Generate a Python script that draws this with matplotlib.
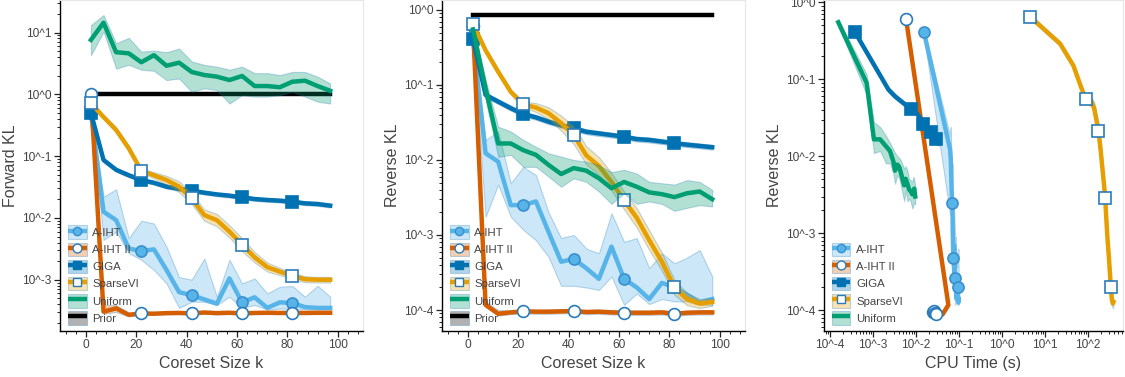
import matplotlib
matplotlib.use("Agg")
import matplotlib.pyplot as plt
import matplotlib.ticker as mticker
from matplotlib.colors import to_rgba
from matplotlib.lines import Line2D
from matplotlib.patches import Patch
import numpy as np

plt.rcParams['font.family'] = ['Liberation Sans', 'DejaVu Sans']

# coreset sizes
K = [2, 7, 12, 17, 22, 27, 32, 37, 42, 47, 52, 57, 62, 67, 72, 77, 82, 87, 92, 97]

# ---- forward KL ----
fwd_aiht = [0.5, 0.0126, 0.0092, 0.0032, 0.0029, 0.0031, 0.00144, 6.3e-4, 5.6e-4, 4.8e-4,
            4.1e-4, 1.05e-3, 4.3e-4, 5.2e-4, 3.5e-4, 4.3e-4, 4.2e-4, 3.6e-4, 3.5e-4, 3.5e-4]
fwd_aiht_lo = [0.45, 0.0044, 0.006, 0.0027, 0.0021, 0.00144, 8.7e-4, 3.5e-4, 4.4e-4, 4.4e-4,
               3.9e-4, 5.3e-4, 3.5e-4, 3.9e-4, 3.3e-4, 3.4e-4, 3.4e-4, 3.3e-4, 3.3e-4, 3.3e-4]
fwd_aiht_hi = [0.56, 0.022, 0.029, 0.0047, 0.009, 0.0081, 0.0034, 0.0011, 1.0e-3, 0.0022,
               5.3e-4, 0.0021, 8.7e-4, 1.05e-3, 6.0e-4, 7.7e-4, 7.9e-4, 5.3e-4, 8e-4, 5.3e-4]

fwd_aiht2 = [1.03, 3.04e-4, 3.44e-4, 2.7e-4, 2.85e-4, 2.82e-4, 2.88e-4, 2.9e-4, 2.85e-4, 2.95e-4,
             2.88e-4, 2.92e-4, 2.85e-4, 2.9e-4, 2.92e-4, 2.9e-4, 2.9e-4, 2.9e-4, 2.92e-4, 2.92e-4]
fwd_aiht2_lo = [0.95, 2.8e-4, 3.0e-4, 2.55e-4, 2.7e-4, 2.7e-4, 2.75e-4, 2.77e-4, 2.72e-4, 2.8e-4,
                2.75e-4, 2.78e-4, 2.72e-4, 2.77e-4, 2.78e-4, 2.77e-4, 2.77e-4, 2.77e-4, 2.78e-4, 2.78e-4]
fwd_aiht2_hi = [1.1, 3.9e-4, 3.9e-4, 2.95e-4, 3.0e-4, 2.95e-4, 3.0e-4, 3.03e-4, 2.98e-4, 3.08e-4,
                3.0e-4, 3.05e-4, 2.98e-4, 3.03e-4, 3.05e-4, 3.03e-4, 3.03e-4, 3.03e-4, 3.05e-4, 3.05e-4]

fwd_giga = [0.5, 0.0865, 0.06, 0.049, 0.041, 0.037, 0.032, 0.0295, 0.0276, 0.0256,
            0.024, 0.0229, 0.0215, 0.0202, 0.0195, 0.019, 0.0183, 0.0172, 0.0168, 0.0158]
fwd_giga_lo = [0.46, 0.08, 0.056, 0.0455, 0.038, 0.0345, 0.0298, 0.0275, 0.0257, 0.0239,
               0.0224, 0.0213, 0.02, 0.0188, 0.0182, 0.0177, 0.017, 0.016, 0.0156, 0.0147]
fwd_giga_hi = [0.54, 0.094, 0.065, 0.053, 0.0443, 0.04, 0.0346, 0.0318, 0.0297, 0.0275,
               0.0258, 0.0246, 0.0231, 0.0217, 0.021, 0.0204, 0.0197, 0.0185, 0.018, 0.017]

fwd_svi = [0.72, 0.43, 0.265, 0.134, 0.058, 0.049, 0.041, 0.032, 0.0207, 0.0111,
           0.0092, 0.006, 0.0037, 0.0023, 0.0016, 0.00135, 0.00115, 0.00102, 0.001, 0.001]
fwd_svi_lo = [0.672, 0.401, 0.242, 0.122, 0.053, 0.0437, 0.0349, 0.026, 0.0168, 0.009,
              0.0073, 0.0048, 0.0029, 0.0019, 0.00136, 0.00118, 0.00102, 0.00091, 0.0009, 0.0009]
fwd_svi_hi = [0.772, 0.461, 0.29, 0.147, 0.0636, 0.055, 0.048, 0.039, 0.0255, 0.0137,
              0.0116, 0.0076, 0.0047, 0.0028, 0.0019, 0.00155, 0.00129, 0.00114, 0.00111, 0.00111]

fwd_unif = [7.6, 14.4, 4.8, 4.6, 3.3, 4.3, 2.9, 3.25, 2.3, 2.05,
            1.93, 1.7, 1.98, 1.36, 1.36, 1.3, 1.6, 1.66, 1.36, 1.14]
fwd_unif_lo = [4.3, 10.3, 2.6, 3.0, 2.5, 2.4, 1.7, 1.8, 1.1, 1.25,
               1.17, 0.71, 0.97, 0.92, 0.92, 0.97, 1.1, 0.92, 0.76, 0.71]
fwd_unif_hi = [13.2, 19.2, 6.7, 8.2, 4.9, 5.1, 4.8, 5.5, 3.4, 3.0,
               2.8, 2.5, 2.8, 2.2, 2.2, 2.05, 2.3, 2.3, 1.93, 1.5]

fwd_prior = 1.0

# ---- reverse KL ----
rev_aiht = [0.41, 0.0123, 0.0095, 0.0025, 0.0025, 0.0028, 0.0011, 4.4e-4, 4.8e-4, 3.6e-4,
            2.6e-4, 7.0e-4, 2.6e-4, 2.0e-4, 1.4e-4, 2.3e-4, 2.0e-4, 1.6e-4, 1.26e-4, 1.4e-4]
rev_aiht_lo = [0.37, 0.00175, 0.0047, 0.00175, 0.00117, 8.5e-4, 5.1e-4, 2.1e-4, 2.1e-4, 2.0e-4,
               1.85e-4, 2.8e-4, 1.17e-4, 1.66e-4, 1.2e-4, 1.4e-4, 1.3e-4, 1.3e-4, 1.17e-4, 1.17e-4]
rev_aiht_hi = [0.45, 0.0185, 0.024, 0.0049, 0.0081, 0.0063, 0.002, 9.1e-4, 1.0e-3, 6.6e-4,
               5.7e-4, 1.95e-3, 8.1e-4, 9.1e-4, 3.6e-4, 5.7e-4, 4.2e-4, 5.0e-4, 6.3e-4, 2.8e-4]

rev_aiht2 = [0.61, 1.17e-4, 8.9e-5, 9.3e-5, 9.6e-5, 9.5e-5, 9.5e-5, 9.6e-5, 9.7e-5, 9.4e-5,
             9.5e-5, 9.3e-5, 9.2e-5, 9.2e-5, 9.2e-5, 9.3e-5, 8.9e-5, 9.2e-5, 9.3e-5, 9.3e-5]
rev_aiht2_lo = [0.57, 1.1e-4, 8.4e-5, 8.8e-5, 9.0e-5, 8.9e-5, 8.9e-5, 9.0e-5, 9.1e-5, 8.8e-5,
                8.9e-5, 8.7e-5, 8.6e-5, 8.6e-5, 8.6e-5, 8.7e-5, 8.4e-5, 8.6e-5, 8.7e-5, 8.7e-5]
rev_aiht2_hi = [0.65, 1.3e-4, 1.0e-4, 9.9e-5, 1.02e-4, 1.01e-4, 1.01e-4, 1.02e-4, 1.03e-4, 1.0e-4,
                1.01e-4, 9.9e-5, 9.8e-5, 9.8e-5, 9.8e-5, 9.9e-5, 9.5e-5, 9.8e-5, 9.9e-5, 9.9e-5]

rev_giga = [0.41, 0.0736, 0.06, 0.049, 0.041, 0.037, 0.0324, 0.029, 0.0264, 0.0238,
            0.0226, 0.0215, 0.0204, 0.019, 0.0185, 0.0176, 0.0167, 0.016, 0.0154, 0.0148]
rev_giga_lo = [0.38, 0.068, 0.0556, 0.0454, 0.038, 0.0343, 0.03, 0.0269, 0.0244, 0.022,
               0.0209, 0.0199, 0.0189, 0.0176, 0.0171, 0.0163, 0.0155, 0.0148, 0.0143, 0.0137]
rev_giga_hi = [0.44, 0.0795, 0.065, 0.053, 0.0443, 0.04, 0.035, 0.0313, 0.0285, 0.0257,
               0.0244, 0.0232, 0.022, 0.0205, 0.02, 0.019, 0.018, 0.0173, 0.0166, 0.016]

rev_svi = [0.65, 0.29, 0.15, 0.081, 0.055, 0.05, 0.042, 0.031, 0.0215, 0.0115,
           0.0083, 0.0051, 0.0029, 0.0017, 8.5e-4, 4.4e-4, 2.0e-4, 1.4e-4, 1.22e-4, 1.28e-4]
rev_svi_lo = [0.606, 0.27, 0.14, 0.0756, 0.0502, 0.0436, 0.035, 0.0246, 0.0163, 0.0087,
              0.0063, 0.0039, 0.0022, 0.00126, 6.3e-4, 3.34e-4, 1.59e-4, 1.16e-4, 1.06e-4, 1.14e-4]
rev_svi_hi = [0.697, 0.311, 0.161, 0.0868, 0.0603, 0.0574, 0.0505, 0.039, 0.0283, 0.0152,
              0.0109, 0.0067, 0.0038, 0.00229, 0.00115, 5.8e-4, 2.52e-4, 1.68e-4, 1.4e-4, 1.44e-4]

rev_unif = [0.55, 0.09, 0.0166, 0.0166, 0.0135, 0.0117, 0.0086, 0.0065, 0.0078, 0.0072,
            0.0057, 0.0042, 0.0051, 0.0044, 0.0037, 0.0035, 0.0032, 0.0036, 0.0038, 0.003]
rev_unif_lo = [0.5, 0.063, 0.011, 0.0117, 0.0081, 0.0081, 0.006, 0.0044, 0.0057, 0.0051,
               0.0038, 0.0026, 0.0036, 0.0026, 0.0028, 0.0026, 0.0021, 0.0023, 0.0025, 0.0024]
rev_unif_hi = [0.6, 0.117, 0.0278, 0.024, 0.0185, 0.015, 0.0123, 0.0111, 0.01, 0.0095,
               0.0085, 0.0069, 0.0074, 0.0066, 0.0051, 0.0049, 0.0047, 0.0054, 0.0051, 0.004]

rev_prior = 0.86

# ---- CPU time (s) ----
t_aiht = [0.0153, 0.0618, 0.064, 0.0687, 0.070, 0.070, 0.0713, 0.0738, 0.0738, 0.0765,
          0.0779, 0.0765, 0.0807, 0.0836, 0.0882, 0.0882, 0.093, 0.0948, 0.0965, 0.098]
t_aiht2 = [5.85e-3, 0.0565, 0.0417, 0.033, 0.0253, 0.026, 0.026, 0.0265, 0.0262, 0.027,
           0.027, 0.0272, 0.0272, 0.0275, 0.0278, 0.028, 0.0287, 0.0287, 0.029, 0.029]
t_giga = [3.8e-4, 2.28e-3, 3.25e-3, 5.1e-3, 7.65e-3, 1.0e-2, 1.2e-2, 1.36e-2, 1.48e-2, 1.68e-2,
          1.84e-2, 2.0e-2, 2.19e-2, 2.4e-2, 2.53e-2, 2.72e-2, 2.87e-2, 3.0e-2, 3.2e-2, 3.37e-2]
t_svi = [4.48, 22.3, 45.6, 67.5, 88.3, 122, 138, 153, 174, 197,
         208, 227, 249, 262, 282, 308, 337, 355, 375, 388]
t_unif = [1.56e-4, 7.1e-4, 1.05e-3, 1.46e-3, 2.0e-3, 2.48e-3, 2.97e-3, 3.25e-3, 3.68e-3, 4.1e-3,
          4.6e-3, 5.3e-3, 5.75e-3, 6.3e-3, 6.9e-3, 7.5e-3, 8.2e-3, 8.7e-3, 9.1e-3, 9.6e-3]

NAMES = ['A-IHT', 'A-IHT II', 'GIGA', 'SparseVI', 'Uniform']
STYLE = {
    'A-IHT':    dict(color='#56B4E9', marker='o', mfc='#56B4E9', mec='#3b8fcf', ms=8),
    'A-IHT II': dict(color='#D55E00', marker='o', mfc='white',   mec='#2b7bba', ms=8.5),
    'GIGA':     dict(color='#0072B2', marker='s', mfc='#0072B2', mec='#0072B2', ms=8),
    'SparseVI': dict(color='#E69F00', marker='s', mfc='white',   mec='#2b7bba', ms=8),
    'Uniform':  dict(color='#009E73', marker=None, mfc='none',   mec='none',    ms=0),
}
EDGE = (0.12, 0.47, 0.71, 0.28)
TXT = '#444444'


def draw(ax, x, name, v, lo, hi, z):
    st = STYLE[name]
    ax.fill_between(x, lo, hi, facecolor=to_rgba(st['color'], 0.3), edgecolor=EDGE,
                    linewidth=0.8, zorder=z)
    ax.plot(x, v, color=st['color'], lw=3.2, zorder=z + 1, solid_joinstyle='round')
    if st['marker']:
        ax.plot(x[::4], v[::4], ls='none', marker=st['marker'], mfc=st['mfc'],
                mec=st['mec'], ms=st['ms'], mew=1.2, zorder=z + 2)


def legend_handles(with_prior):
    hs = []
    for n in NAMES:
        st = STYLE[n]
        p = Patch(facecolor=to_rgba(st['color'], 0.3), edgecolor=EDGE, linewidth=0.8)
        ln = Line2D([], [], color=st['color'], lw=3.2, solid_capstyle='butt',
                    marker=st['marker'] if st['marker'] else None,
                    mfc=st['mfc'], mec=st['mec'], ms=st['ms'] * 0.75, mew=1.0)
        hs.append((p, ln))
    labels = list(NAMES)
    if with_prior:
        p = Patch(facecolor=to_rgba('#555555', 0.45), edgecolor=EDGE, linewidth=0.8)
        ln = Line2D([], [], color='black', lw=3.2, solid_capstyle='butt')
        hs.append((p, ln))
        labels.append('Prior')
    return hs, labels


def style_axes(ax):
    ax.set_yscale('log')
    for s in ['top', 'right']:
        ax.spines[s].set_color('#e6e6e6')
        ax.spines[s].set_linewidth(0.8)
    for s in ['left', 'bottom']:
        ax.spines[s].set_color('black')
        ax.spines[s].set_linewidth(1.0)
    ax.tick_params(which='major', direction='out', length=4, width=0.9, color='#222222',
                   labelsize=8.6, labelcolor=TXT, pad=2)
    ax.tick_params(which='minor', direction='out', length=2, width=0.7, color='#222222')
    ax.yaxis.set_major_locator(mticker.LogLocator(base=10, numticks=20))
    ax.yaxis.set_minor_locator(mticker.LogLocator(base=10, subs=range(2, 10), numticks=20))
    ax.yaxis.set_minor_formatter(mticker.NullFormatter())
    ax.yaxis.set_major_formatter(mticker.FuncFormatter(
        lambda v, _: '10^%d' % int(round(np.log10(v)))))


fig = plt.figure(figsize=(11.25, 3.77), dpi=100)
ax1 = fig.add_axes([0.0533, 0.122, 0.2693, 0.878])
ax2 = fig.add_axes([0.3929, 0.122, 0.2693, 0.878])
ax3 = fig.add_axes([0.7324, 0.122, 0.2658, 0.878])

fwd = [(fwd_aiht, fwd_aiht_lo, fwd_aiht_hi), (fwd_aiht2, fwd_aiht2_lo, fwd_aiht2_hi),
       (fwd_giga, fwd_giga_lo, fwd_giga_hi), (fwd_svi, fwd_svi_lo, fwd_svi_hi),
       (fwd_unif, fwd_unif_lo, fwd_unif_hi)]
rev = [(rev_aiht, rev_aiht_lo, rev_aiht_hi), (rev_aiht2, rev_aiht2_lo, rev_aiht2_hi),
       (rev_giga, rev_giga_lo, rev_giga_hi), (rev_svi, rev_svi_lo, rev_svi_hi),
       (rev_unif, rev_unif_lo, rev_unif_hi)]
times = [t_aiht, t_aiht2, t_giga, t_svi, t_unif]

for ax, data, prior in [(ax1, fwd, fwd_prior), (ax2, rev, rev_prior)]:
    style_axes(ax)
    ax.fill_between([K[0], K[-1]], [prior * 0.96] * 2, [prior * 1.04] * 2,
                    facecolor=to_rgba('#555555', 0.3), edgecolor='none', zorder=1.4)
    ax.plot([K[0], K[-1]], [prior, prior], color='black', lw=3.2, zorder=1.5)
    for i, (n, (v, lo, hi)) in enumerate(zip(NAMES, data)):
        draw(ax, K, n, v, lo, hi, 2 + 3 * i)
    ax.set_xlim(-10.3, 110)
    ax.xaxis.set_major_locator(mticker.MultipleLocator(20))
    ax.xaxis.set_minor_locator(mticker.MultipleLocator(4))
    ax.set_xlabel('Coreset Size k', fontsize=11.5, color=TXT, labelpad=3)

ax1.set_ylim(10 ** -3.83, 10 ** 1.526)
ax1.set_ylabel('Forward KL', fontsize=11.5, color=TXT, labelpad=3)
ax2.set_ylim(10 ** -4.28, 10 ** 0.133)
ax2.set_ylabel('Reverse KL', fontsize=11.5, color=TXT, labelpad=3)

style_axes(ax3)
ax3.set_xscale('log')
for i, (n, t, (v, lo, hi)) in enumerate(zip(NAMES, times, rev)):
    draw(ax3, t, n, v, lo, hi, 2 + 3 * i)
ax3.set_xlim(10 ** -4.14, 10 ** 2.81)
ax3.set_ylim(10 ** -4.27, 10 ** 0.03)
ax3.xaxis.set_major_locator(mticker.LogLocator(base=10, numticks=20))
ax3.xaxis.set_minor_locator(mticker.LogLocator(base=10, subs=range(2, 10), numticks=20))
ax3.xaxis.set_minor_formatter(mticker.NullFormatter())
ax3.xaxis.set_major_formatter(mticker.FuncFormatter(
    lambda v, _: '10^%d' % int(round(np.log10(v)))))
ax3.set_xlabel('CPU Time (s)', fontsize=11.5, color=TXT, labelpad=3)
ax3.set_ylabel('Reverse KL', fontsize=11.5, color=TXT, labelpad=3)

for ax, prior_on in [(ax1, True), (ax2, True), (ax3, False)]:
    hs, labels = legend_handles(prior_on)
    leg = ax.legend(hs, labels, loc='lower left', bbox_to_anchor=(0.02, 0.012),
                    frameon=False, fontsize=8.2, handlelength=1.6, handleheight=1.45,
                    handletextpad=0.5, labelspacing=0.32, borderpad=0.2,
                    borderaxespad=0.0)
    for t in leg.get_texts():
        t.set_color(TXT)
    leg.set_zorder(30)

fig.savefig('out.png', dpi=100)
